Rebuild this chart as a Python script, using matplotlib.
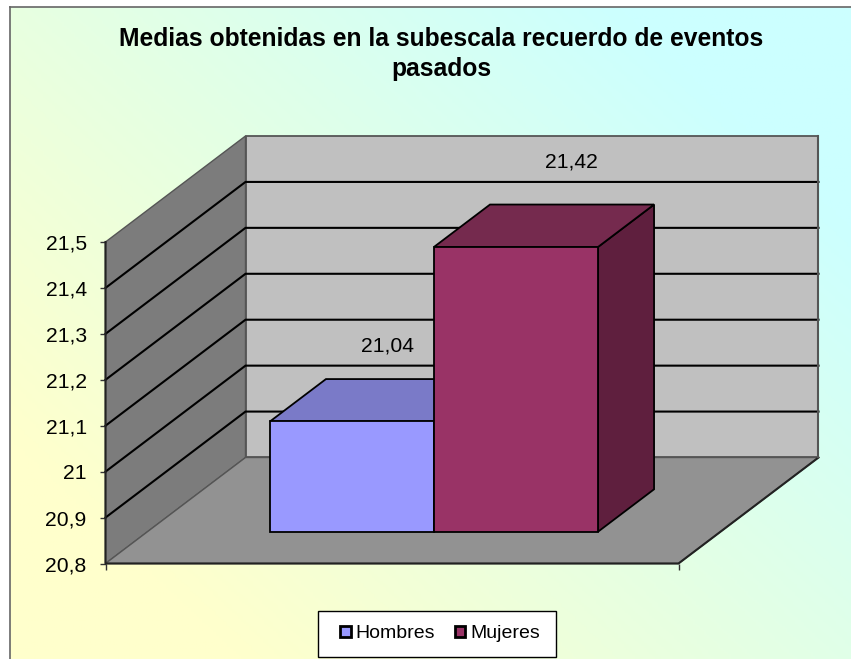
import numpy as np
import matplotlib
matplotlib.use('Agg')
import matplotlib.pyplot as plt
from matplotlib.colors import LinearSegmentedColormap
from matplotlib.patches import Polygon, Patch, Rectangle

plt.rcParams['font.family'] = ['Liberation Sans', 'DejaVu Sans']

# data
titulo = 'Medias obtenidas en la subescala recuerdo de eventos\npasados'
series = ['Hombres', 'Mujeres']
medias = [21.04, 21.42]
etiquetas = ['21,04', '21,42']
ticks = [20.8, 20.9, 21.0, 21.1, 21.2, 21.3, 21.4, 21.5]
tick_labels = ['20,8', '20,9', '21', '21,1', '21,2', '21,3', '21,4', '21,5']

W, H = 851, 659
BASE = 20.8
TOP = 21.5

colores = ['#9999FF', '#993366']
colores_sup = ['#7A7AC8', '#752A4E']
colores_lado = ['#5F5F9F', '#5F1F3E']


def to_fig(x0, y0, x1, y1):
    # pixel box (y from top) to figure fractions
    return [x0 / W, 1 - y1 / H, (x1 - x0) / W, (y1 - y0) / H]


fig = plt.figure(figsize=(W / 100, H / 100), dpi=100, facecolor='white')

# background gradient, yellow bottom left to cyan top right
bg = fig.add_axes(to_fig(10, 7, W, H), zorder=0)
u, v = np.meshgrid(np.linspace(0, 1, 300), np.linspace(0, 1, 300))
cmap = LinearSegmentedColormap.from_list(
    'fondo', [(0, '#FFFFCC'), (0.15, '#FFFFCC'), (0.5, '#E4FFE4'), (0.85, '#CCFFFF'), (1, '#CCFFFF')])
bg.imshow(0.55 * u + 0.45 * v, cmap=cmap, origin='lower', aspect='auto', vmin=0, vmax=1)
bg.set_xticks([])
bg.set_yticks([])
for s in ['right', 'bottom']:
    bg.spines[s].set_visible(False)
for s in ['left', 'top']:
    bg.spines[s].set_color('#666666')
    bg.spines[s].set_linewidth(1.2)

# axes sits on the front plane of the 3D box
ax = fig.add_axes(to_fig(105.5, 242, 678.5, 563.5), zorder=1)
ax.set_xlim(0, 1)
ax.set_ylim(BASE, TOP)
ax.patch.set_visible(False)
for s in ['top', 'right', 'left', 'bottom']:
    ax.spines[s].set_visible(False)

# depth vector of the box in data units
DX = 140 / 573
DY = 0.7 * 106 / 321.5


def p3(x, val, d):
    return (x + d * DX, val + d * DY)


def face(pts, color, ec='black', lw=1.3, z=2):
    ax.add_patch(Polygon(pts, closed=True, facecolor=color, edgecolor=ec, linewidth=lw,
                         zorder=z, clip_on=False, joinstyle='miter'))


# walls and floor
face([p3(0, BASE, 1), p3(1, BASE, 1), p3(1, TOP, 1), p3(0, TOP, 1)], '#C0C0C0', ec='#555555', lw=1.3, z=1)
face([p3(0, BASE, 0), p3(0, BASE, 1), p3(0, TOP, 1), p3(0, TOP, 0)], '#7C7C7C', ec='#555555', lw=1.0, z=1)
face([p3(0, BASE, 0), p3(1, BASE, 0), p3(1, BASE, 1), p3(0, BASE, 1)], '#929292', ec='#555555', lw=1.0, z=1)

# gridlines across both walls
for t in ticks[1:-1]:
    xs, ys = zip(p3(0, t, 0), p3(0, t, 1), p3(1, t, 1))
    ax.plot(xs, ys, color='black', lw=1.5, zorder=1.5, clip_on=False, solid_joinstyle='miter')

# outer dark edges
xs, ys = zip(p3(0, TOP, 0), p3(0, BASE, 0), p3(1, BASE, 0), p3(1, BASE, 1))
ax.plot(xs, ys, color='#222222', lw=1.5, zorder=1.6, clip_on=False)
xs, ys = zip(p3(1, BASE, 1), p3(1, TOP, 1))
ax.plot(xs, ys, color='#555555', lw=1.5, zorder=1.6, clip_on=False)

# bars, depth 0.3 to 0.7, two of them side by side centred on the category
bar_w = 0.2863
d0, d1 = 0.3, 0.7
label_d = [0.557, 0.693]
label_up = [0.106, 0.094]
for i, val in enumerate(medias):
    x0 = 0.5 - bar_w + i * bar_w
    x1 = x0 + bar_w
    z = 3 + i
    face([p3(x1, BASE, d0), p3(x1, BASE, d1), p3(x1, val, d1), p3(x1, val, d0)], colores_lado[i], z=z)
    face([p3(x0, val, d0), p3(x1, val, d0), p3(x1, val, d1), p3(x0, val, d1)], colores_sup[i], z=z)
    face([p3(x0, BASE, d0), p3(x1, BASE, d0), p3(x1, val, d0), p3(x0, val, d0)], colores[i], z=z + 0.5)
    lx, ly = p3((x0 + x1) / 2, val + label_up[i], label_d[i])
    ax.text(lx, ly, etiquetas[i], fontsize=15.2, ha='center', va='center', zorder=6, color='black')

# y axis
ax.set_xticks([0, 1])
ax.set_xticklabels(['', ''])
ax.set_yticks(ticks)
ax.set_yticklabels(tick_labels, fontsize=15.2)
ax.tick_params(axis='y', length=4.5, width=1, color='#333333', pad=9)
ax.tick_params(axis='x', length=4.5, width=1, color='#333333')

# legend, box drawn apart because its side margins are wider than the top ones
fig.add_artist(Rectangle((317.5 / W, 1 - 656.5 / H), 238.5 / W, 45.5 / H, transform=fig.transFigure,
                         facecolor='white', edgecolor='black', linewidth=1.0, zorder=4))
handles = [Patch(facecolor=colores[i], edgecolor='black', linewidth=2.0, label=series[i]) for i in range(2)]
leg = fig.legend(handles=handles, loc='center', ncol=2, bbox_to_anchor=(440 / W, 1 - 634 / H),
                 fontsize=14, frameon=False, handlelength=0.55, handleheight=0.55,
                 handletextpad=0.25, columnspacing=1.02, borderpad=0, borderaxespad=0)
leg.set_zorder(5)

fig.text(441 / W, 1 - 54 / H, titulo, fontsize=17.7, fontweight='bold', ha='center', va='center',
         linespacing=1.31, zorder=5)

fig.savefig('out.png', dpi=100, facecolor='white')
